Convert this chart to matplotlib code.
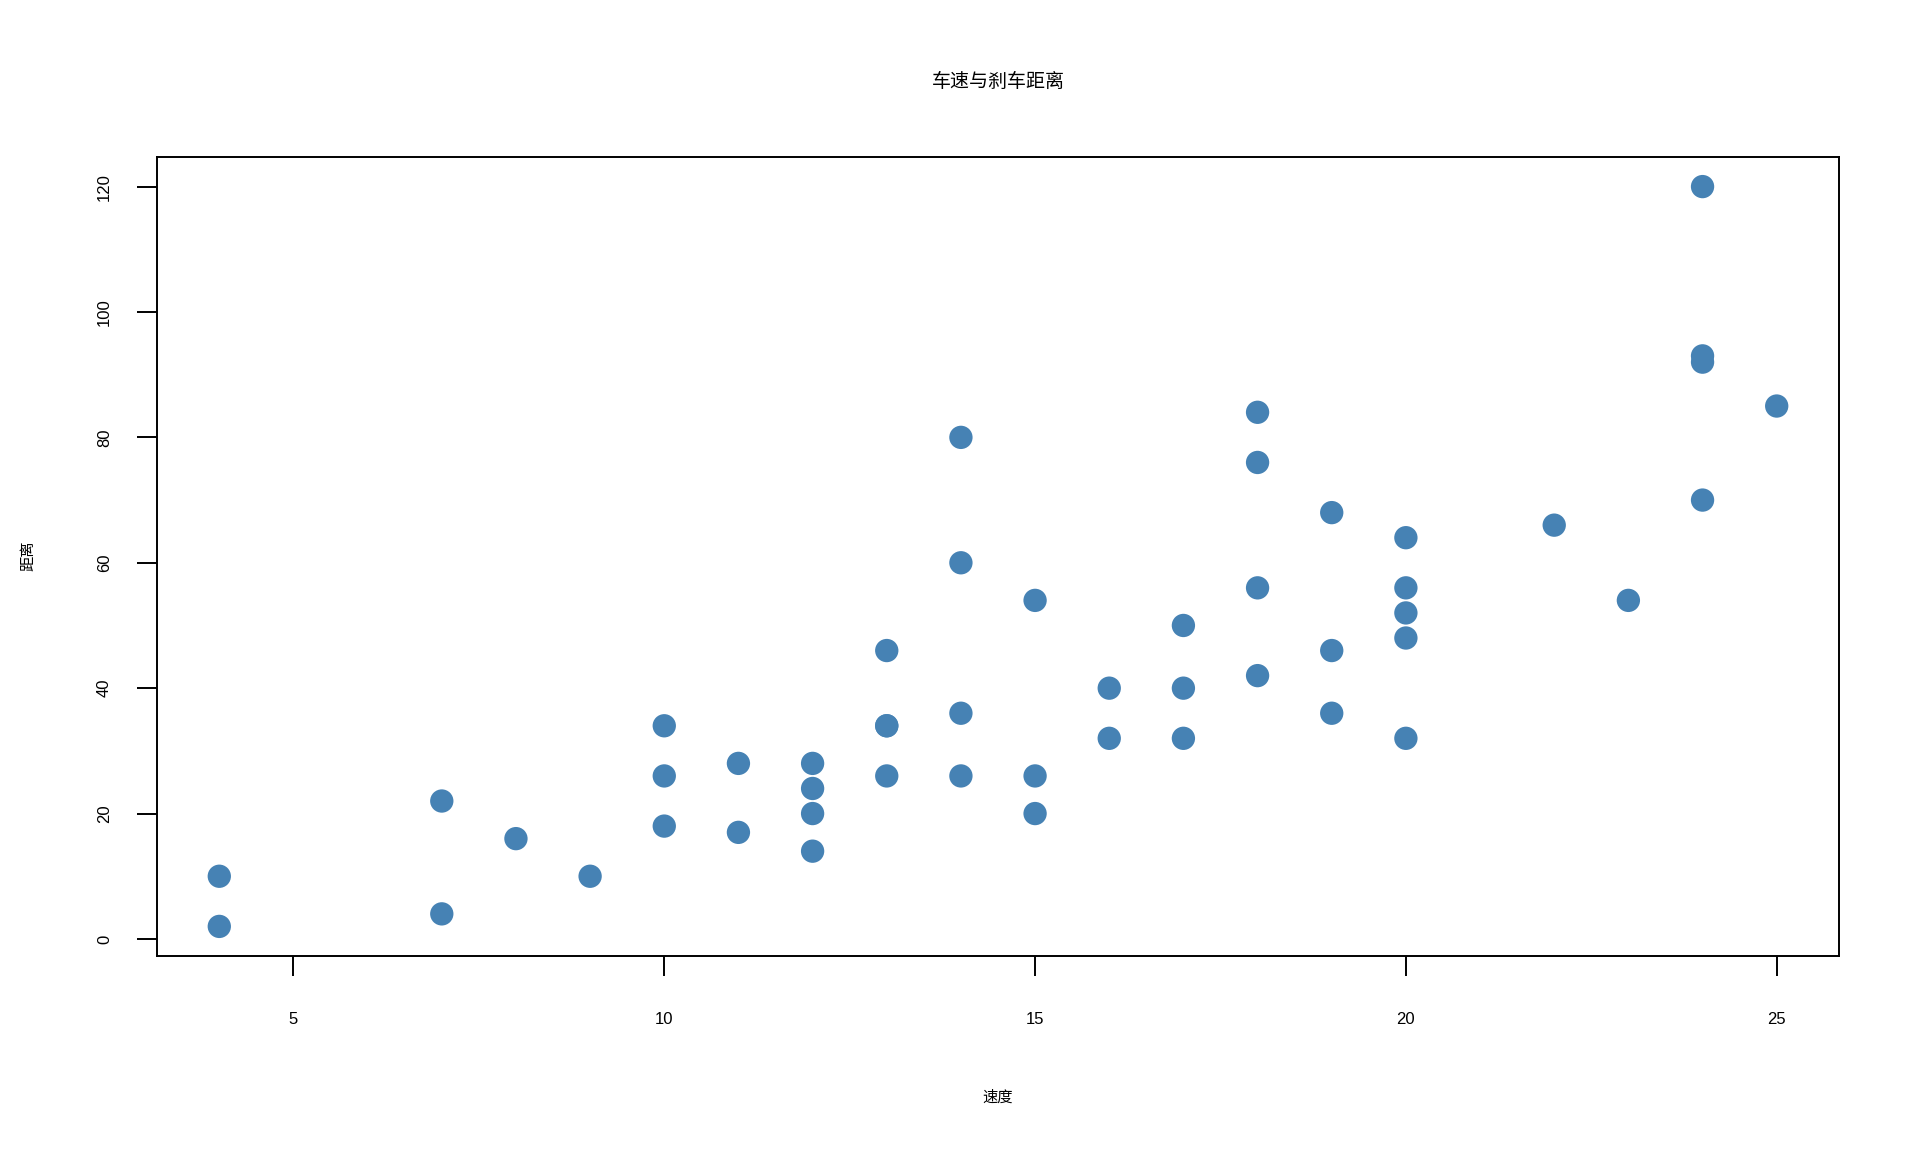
import numpy as np
import matplotlib
matplotlib.use("Agg")
import matplotlib.pyplot as plt

plt.rcParams['font.family'] = ['Liberation Sans', 'Noto Sans CJK SC', 'DejaVu Sans']

# cars 数据：车速与刹车距离
speed = [4, 4, 7, 7, 8, 9, 10, 10, 10, 11, 11, 12, 12, 12, 12, 13, 13, 13, 13,
         14, 14, 14, 14, 15, 15, 15, 16, 16, 17, 17, 17, 18, 18, 18, 18,
         19, 19, 19, 20, 20, 20, 20, 20, 22, 23, 24, 24, 24, 24, 25]
dist = [2, 10, 4, 22, 16, 10, 18, 26, 34, 17, 28, 14, 20, 24, 28, 26, 34, 34, 46,
        26, 36, 60, 80, 20, 26, 54, 32, 40, 32, 40, 50, 42, 56, 76, 84,
        36, 46, 68, 32, 48, 52, 56, 64, 66, 54, 70, 92, 93, 120, 85]
x_ticks = [5, 10, 15, 20, 25]
y_ticks = [0, 20, 40, 60, 80, 100, 120]

W, H = 1920, 1152
fig = plt.figure(figsize=(W / 100, H / 100), dpi=100)
left, right, top, bottom = 157, 1839, 157, 956
ax = fig.add_axes([left / W, 1 - bottom / H, (right - left) / W, (bottom - top) / H])

ax.scatter(speed, dist, s=282, color='#4682B4', edgecolors='none', zorder=3)

# R 风格的 4% 扩展范围
xr = max(speed) - min(speed)
yr = max(dist) - min(dist)
ax.set_xlim(min(speed) - 0.04 * xr, max(speed) + 0.04 * xr)
ax.set_ylim(min(dist) - 0.04 * yr, max(dist) + 0.04 * yr)

ax.set_xticks(x_ticks)
ax.set_yticks(y_ticks)
ax.tick_params(axis='both', direction='out', length=14.4, width=1.4, labelsize=12)
ax.tick_params(axis='x', pad=26)
ax.tick_params(axis='y', pad=18, labelrotation=90)
for lab in ax.get_yticklabels():
    lab.set_va('center')
for sp in ax.spines.values():
    sp.set_linewidth(1.4)

cx = (left + right) / 2 / W
fig.text(cx, 1 - 82 / H, '车速与刹车距离', ha='center', va='center', fontsize=13.7)
fig.text(cx, 1 - 1098 / H, '速度', ha='center', va='center', fontsize=11)
fig.text(28 / W, 1 - 556 / H, '距离', ha='center', va='center', fontsize=11, rotation=90)

fig.savefig('out.png', dpi=100)
